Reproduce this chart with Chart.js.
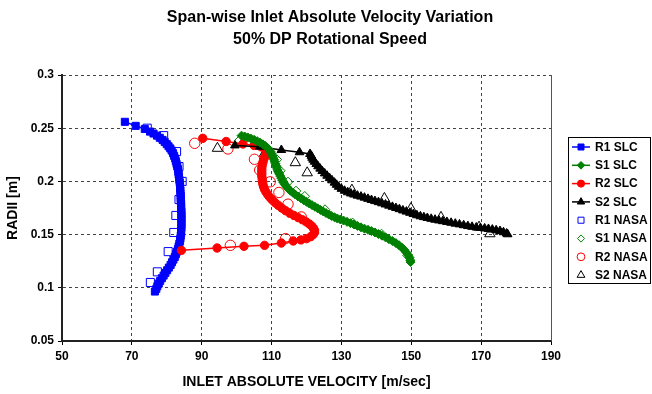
<!DOCTYPE html>
<html>
<head>
<meta charset="utf-8">
<script src="https://cdn.jsdelivr.net/npm/chart.js@4.4.1/dist/chart.umd.min.js"></script>
<style>
  html, body { margin: 0; padding: 0; background: #fff; }
</style>
</head>
<body>
<canvas id="chart" width="652" height="394"></canvas>
<script>
// Axis ticks
const xTicks = [50, 70, 90, 110, 130, 150, 170, 190];
const yTicks = [0.05, 0.1, 0.15, 0.2, 0.25, 0.3];
const yTickLabels = ['0.05', '0.1', '0.15', '0.2', '0.25', '0.3'];

const titleLines = ['Span-wise Inlet Absolute Velocity Variation', '50% DP Rotational Speed'];
const seriesNames = ['R1 SLC', 'S1 SLC', 'R2 SLC', 'S2 SLC', 'R1 NASA', 'S1 NASA', 'R2 NASA', 'S2 NASA'];

// [velocity m/s, radius m]
const r1Slc = [[68.0,0.256],[71.1,0.2522],[73.7,0.2493],[75.2,0.2468],[76.2,0.2450],[77.2,0.2430],[78.0,0.2410],
  [78.8,0.2390],[79.4,0.2370],[80.0,0.2350],[80.5,0.2330],[81.0,0.2310],[81.4,0.2290],[81.8,0.2265],[82.1,0.2240],
  [82.4,0.2215],[82.6,0.2190],[82.8,0.2165],[83.0,0.2140],[83.2,0.2115],[83.3,0.2090],[83.4,0.2065],[83.5,0.2040],
  [83.6,0.2015],[83.7,0.1990],[83.8,0.1965],[83.8,0.1940],[83.9,0.1915],[83.9,0.1890],[84.0,0.1865],[84.0,0.1840],
  [84.0,0.1815],[84.1,0.1790],[84.1,0.1765],[84.1,0.1740],[84.2,0.1715],[84.2,0.1690],[84.2,0.1665],[84.2,0.1640],
  [84.2,0.1615],[84.2,0.1590],[84.2,0.1565],[84.1,0.1540],[84.1,0.1515],[84.0,0.1490],[83.9,0.1465],[83.8,0.1440],
  [83.6,0.1415],[83.4,0.1390],[83.2,0.1365],[82.9,0.1340],[82.6,0.1315],[82.3,0.1290],[81.9,0.1265],[81.5,0.1240],
  [81.1,0.1215],[80.6,0.1190],[80.1,0.1165],[79.6,0.1140],[79.1,0.1115],[78.6,0.1090],[78.1,0.1065],[77.7,0.1040],
  [77.3,0.1015],[77.0,0.0990],[76.6,0.0965]];

const s1Slc = [[101.4,0.2430],[102.3,0.2422],[103.2,0.2413],[104.1,0.2402],[105.0,0.2391],[105.9,0.2378],[106.7,0.2364],
  [107.5,0.2349],[108.2,0.2333],[108.8,0.2316],[109.3,0.2298],[109.7,0.2280],[110.0,0.2261],[110.3,0.2242],[110.5,0.2223],
  [110.7,0.2204],[110.9,0.2185],[111.1,0.2166],[111.3,0.2147],[111.5,0.2128],[111.7,0.2109],[111.9,0.2090],[112.2,0.2070],
  [112.5,0.2050],[112.8,0.2030],[113.1,0.2010],[113.4,0.1990],[113.8,0.1970],[114.3,0.1950],[114.8,0.1931],[115.4,0.1912],
  [116.1,0.1894],[116.8,0.1876],[117.6,0.1858],[118.4,0.1841],[119.2,0.1824],[120.0,0.1808],[120.8,0.1792],[121.6,0.1777],
  [122.4,0.1762],[123.2,0.1747],[124.0,0.1732],[124.8,0.1717],[125.6,0.1702],[126.4,0.1688],[127.2,0.1675],[128.0,0.1663],
  [128.8,0.1652],[129.7,0.1642],[130.6,0.1632],[131.6,0.1620],[132.6,0.1607],[133.6,0.1595],[134.6,0.1582],[135.6,0.1568],
  [136.6,0.1556],[137.6,0.1545],[138.6,0.1533],[139.6,0.1520],[140.6,0.1505],[141.6,0.1490],[142.6,0.1474],[143.6,0.1457],
  [144.6,0.1439],[145.6,0.1420],[146.5,0.1400],[147.3,0.1378],[148.0,0.1355],[148.6,0.1332],[149.1,0.1308],[149.5,0.1284],
  [149.7,0.1260],[149.8,0.1242]];

const r2Slc = [[90.3,0.2405],[97.0,0.2375],[101.8,0.2352],[105.0,0.2338],[107.0,0.2325],[108.3,0.2300],[108.6,0.2275],
  [108.3,0.2250],[108.0,0.2225],[107.7,0.2200],[107.5,0.2175],[107.3,0.2150],[107.2,0.2125],[107.2,0.2100],[107.2,0.2075],
  [107.2,0.2050],[107.3,0.2025],[107.4,0.2000],[107.5,0.1975],[107.7,0.1950],[108.0,0.1925],[108.4,0.1900],[108.9,0.1875],
  [109.5,0.1850],[110.2,0.1825],[111.0,0.1800],[111.9,0.1775],[112.9,0.1750],[114.0,0.1725],[115.2,0.1700],[116.4,0.1680],
  [117.6,0.1660],[118.8,0.1640],[119.9,0.1620],[120.8,0.1600],[121.5,0.1580],[122.0,0.1560],[122.3,0.1540],[122.3,0.1520],
  [121.9,0.1500],[121.2,0.1480],[120.0,0.1462],[118.4,0.1450],[116.2,0.1440],[112.8,0.1421],[108.0,0.1399],[102.1,0.1390],
  [94.4,0.1374],[84.2,0.1352]];

const s2Slc = [[99.5,0.2338],[106.6,0.2326],[112.8,0.2295],[118.0,0.2274],[121.0,0.2258],[121.4,0.2240],[121.6,0.2222],
  [121.9,0.2204],[122.3,0.2185],[122.8,0.2163],[123.3,0.2142],[123.9,0.2120],[124.5,0.2098],[125.2,0.2075],[125.9,0.2053],
  [126.6,0.2031],[127.3,0.2010],[128.0,0.1988],[128.6,0.1968],[129.2,0.1949],[130.0,0.1930],[130.9,0.1912],[131.8,0.1898],
  [132.7,0.1886],[133.6,0.1876],[134.6,0.1866],[135.6,0.1857],[136.6,0.1847],[137.6,0.1836],[138.6,0.1825],[139.6,0.1815],
  [140.6,0.1805],[141.6,0.1794],[142.6,0.1783],[143.6,0.1772],[144.6,0.1761],[145.6,0.1750],[146.6,0.1739],[147.6,0.1727],
  [148.6,0.1716],[149.6,0.1705],[150.6,0.1693],[151.6,0.1682],[152.6,0.1672],[153.6,0.1664],[154.6,0.1656],[155.7,0.1648],
  [156.8,0.1640],[157.9,0.1633],[159.0,0.1626],[160.2,0.1619],[161.4,0.1611],[162.6,0.1603],[163.8,0.1596],[165.0,0.1588],
  [166.2,0.1580],[167.4,0.1573],[168.6,0.1567],[169.8,0.1562],[171.0,0.1558],[172.1,0.1553],[173.2,0.1547],[174.3,0.1541],
  [175.4,0.1534],[176.4,0.1522],[177.3,0.1510],[177.6,0.1503]];

const r1Nasa = [[74.4,0.250],[79.1,0.243],[82.8,0.228],[83.5,0.214],[84.4,0.200],[83.5,0.183],[82.6,0.168],
  [82.0,0.152],[80.4,0.134],[77.3,0.115],[75.3,0.105]];
const s1Nasa = [[100.8,0.2385],[111.5,0.2205],[112.5,0.2100],[114.7,0.1995],[117.0,0.1910],[119.5,0.1860],
  [125.3,0.1735],[133.2,0.1610],[141.5,0.1505],[148.9,0.1305]];
const r2Nasa = [[88.0,0.2358],[97.5,0.2305],[105.1,0.2208],[106.6,0.2107],[109.6,0.1996],[112.1,0.1896],
  [114.7,0.1786],[118.5,0.1666],[114.0,0.1462],[98.2,0.1399]];
const s2Nasa = [[94.5,0.2311],[108.0,0.2264],[116.8,0.2176],[120.2,0.2081],[133.0,0.1918],[142.3,0.1840],
  [149.9,0.1745],[158.5,0.1662],[169.4,0.1570],[172.5,0.1508]];

const toPoints = arr => arr.map(p => ({x: p[0], y: p[1]}));

function slcSet(i, data, color, style, radius, order) {
    return {
        label: seriesNames[i],
        data: toPoints(data),
        showLine: true,
        borderColor: color,
        backgroundColor: color,
        borderWidth: 1.5,
        pointStyle: style,
        pointRadius: radius,
        pointBackgroundColor: color,
        pointBorderColor: color,
        pointBorderWidth: 1,
        order: order
    };
}

function nasaSet(i, data, color, style, radius, order) {
    return {
        label: seriesNames[i],
        data: toPoints(data),
        showLine: false,
        borderColor: color,
        backgroundColor: 'rgba(0,0,0,0)',
        pointStyle: style,
        pointRadius: radius,
        pointBackgroundColor: 'rgba(0,0,0,0)',
        pointBorderColor: color,
        pointBorderWidth: 1,
        order: order
    };
}

const FONT = "'Liberation Sans', Arial, sans-serif";

// title, legend box and right frame line
const decorPlugin = {
    id: 'decor',
    beforeDatasetsDraw(chart) {
        const {ctx, chartArea} = chart;
        ctx.save();
        ctx.strokeStyle = '#555';
        ctx.lineWidth = 1;
        ctx.beginPath();
        ctx.moveTo(Math.round(chartArea.right) + 0.5, chartArea.top);
        ctx.lineTo(Math.round(chartArea.right) + 0.5, chartArea.bottom);
        ctx.stroke();
        ctx.restore();
    },
    afterDraw(chart) {
        const ctx = chart.ctx;
        ctx.save();
        ctx.fillStyle = '#000';
        ctx.textAlign = 'center';
        ctx.textBaseline = 'middle';
        ctx.font = 'bold 16px ' + FONT;
        ctx.fillText(titleLines[0], 330, 18);
        ctx.fillText(titleLines[1], 330, 40);

        // legend
        ctx.strokeStyle = '#000';
        ctx.lineWidth = 1;
        ctx.strokeRect(568.5, 137.5, 82, 146);
        ctx.font = 'bold 12px ' + FONT;
        ctx.textAlign = 'left';
        chart.data.datasets.forEach((ds, i) => {
            const y = 147 + i * 18.3;
            if (ds.showLine) {
                ctx.strokeStyle = ds.borderColor;
                ctx.lineWidth = ds.borderWidth;
                ctx.beginPath();
                ctx.moveTo(572, y);
                ctx.lineTo(590, y);
                ctx.stroke();
            }
            ctx.fillStyle = ds.pointBackgroundColor;
            ctx.strokeStyle = ds.pointBorderColor;
            ctx.lineWidth = 1;
            Chart.helpers.drawPoint(ctx, {
                pointStyle: ds.pointStyle,
                radius: ds.showLine ? ds.pointRadius * 0.85 : ds.pointRadius * 0.75,
                borderWidth: 1,
                rotation: 0
            }, 581, y);
            ctx.fillStyle = '#000';
            ctx.fillText(ds.label, 595, y + 0.5);
        });
        ctx.restore();
    }
};

new Chart(document.getElementById('chart'), {
    type: 'scatter',
    data: {
        datasets: [
            slcSet(0, r1Slc, '#0000ff', 'rect', 5, 4),
            slcSet(1, s1Slc, '#008000', 'rectRot', 4.5, 1),
            slcSet(2, r2Slc, '#ff0000', 'circle', 4.2, 3),
            slcSet(3, s2Slc, '#000000', 'triangle', 5, 2),
            nasaSet(4, r1Nasa, '#0000ff', 'rect', 5.7, 8),
            nasaSet(5, s1Nasa, '#008000', 'rectRot', 4.8, 7),
            nasaSet(6, r2Nasa, '#ff0000', 'circle', 5.2, 6),
            nasaSet(7, s2Nasa, '#000000', 'triangle', 6, 5)
        ]
    },
    options: {
        responsive: false,
        animation: false,
        events: [],
        layout: { padding: { left: 0, top: 75, right: 101, bottom: 0 } },
        plugins: { legend: { display: false }, tooltip: { enabled: false } },
        scales: {
            x: {
                type: 'linear',
                min: 50, max: 190,
                afterBuildTicks: scale => { scale.ticks = xTicks.map(v => ({value: v})); },
                afterFit: scale => { scale.height = 53; },
                ticks: {
                    color: '#000', padding: 4,
                    font: { family: FONT, size: 12, weight: 'bold' },
                    callback: v => String(v)
                },
                grid: {
                    color: c => c.index === xTicks.length - 1 ? 'rgba(0,0,0,0)' : '#444',
                    lineWidth: 1,
                    tickLength: 4,
                    tickColor: '#000',
                    tickBorderDash: []
                },
                border: { display: true, color: '#222', width: 2, dash: [3, 3] },
                title: {
                    display: true, text: 'INLET ABSOLUTE VELOCITY [m/sec]', color: '#000',
                    font: { family: FONT, size: 14, weight: 'bold' },
                    padding: { top: 0, bottom: 3 }
                }
            },
            y: {
                type: 'linear',
                min: 0.05, max: 0.3,
                afterBuildTicks: scale => { scale.ticks = yTicks.map(v => ({value: v})); },
                afterFit: scale => { scale.width = 62; },
                ticks: {
                    color: '#000', padding: 4,
                    font: { family: FONT, size: 12, weight: 'bold' },
                    callback: (v, i) => yTickLabels[i]
                },
                grid: {
                    color: '#444',
                    lineWidth: 1,
                    tickLength: 4,
                    tickColor: '#000',
                    tickBorderDash: []
                },
                border: { display: true, color: '#222', width: 2, dash: [3, 3] },
                title: {
                    display: true, text: 'RADII [m]', color: '#000',
                    font: { family: FONT, size: 14, weight: 'bold' },
                    padding: { top: 5, bottom: 0 }
                }
            }
        }
    },
    plugins: [decorPlugin]
});
</script>
</body>
</html>
